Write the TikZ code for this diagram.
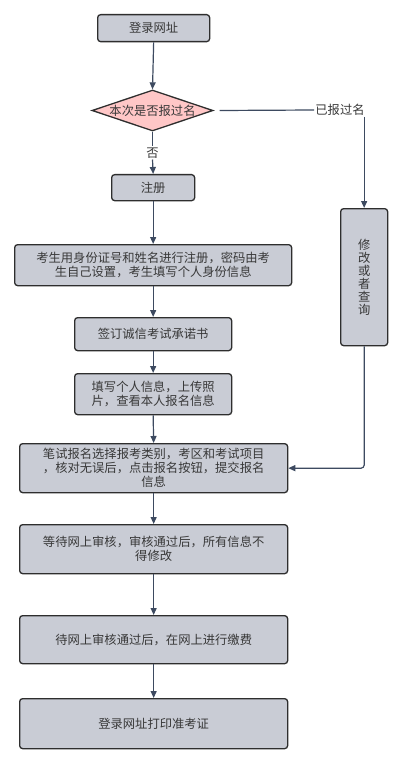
\documentclass[tikz,border=0pt]{standalone}
\usepackage{fontspec}
\setmainfont{Noto Sans CJK SC}
\usetikzlibrary{shapes.geometric,arrows.meta}
\definecolor{boxfill}{HTML}{C9CCD5}
\definecolor{boxline}{HTML}{2E2E2E}
\definecolor{pinkfill}{HTML}{FFC7C7}
\definecolor{arrowcol}{HTML}{3D4A60}
\definecolor{txt}{HTML}{383838}
\begin{document}
\begin{tikzpicture}[x=1pt,y=-1pt,
  font=\fontsize{12.3}{14}\selectfont, text=txt,
  procbox/.style={draw=boxline, line width=1.3pt, fill=boxfill, rounded corners=3pt,
    inner sep=0pt, align=center, anchor=north west},
  decbox/.style={draw=boxline, line width=1.3pt, fill=pinkfill, shape=diamond,
    inner sep=0pt, minimum width=121pt, minimum height=41pt},
  conn/.style={draw=arrowcol, line width=1.2pt},
  arr/.style={conn, -{Triangle[length=7pt,width=6pt]}},
  lbl/.style={fill=white, inner sep=1pt}]
\useasboundingbox (0,0) rectangle (400,762);
\fill[white] (0,0) rectangle (400,762);

\node[procbox, minimum width=112pt, minimum height=27pt] (b1) at (97,14) {登录网址};
\node[decbox] (d) at (152.5,110.5) {};
\node (dtext) at (d.center) {本次是否报过名};
\node[procbox, minimum width=83pt, minimum height=26pt] (b2) at (111,174) {注册};
\node[procbox, minimum width=277pt, minimum height=41pt] (b3) at (14,244)
  {考生用身份证号和姓名进行注册，密码由考\\生自己设置，考生填写个人身份信息};
\node[procbox, minimum width=157pt, minimum height=33pt] (b4) at (74,317) {签订诚信考试承诺书};
\node[procbox, minimum width=157pt, minimum height=41pt] (b5) at (74,373)
  {填写个人信息，上传照\\片，查看本人报名信息};
\node[procbox, minimum width=268pt, minimum height=49pt] (b6) at (19,443)
  {笔试报名选择报考类别，考区和考试项目\\，核对无误后，点击报名按钮，提交报名\\信息};
\node[procbox, minimum width=268pt, minimum height=49pt] (b7) at (19,524)
  {等待网上审核，审核通过后，所有信息不\\得修改};
\node[procbox, minimum width=268pt, minimum height=48pt] (b8) at (19,615)
  {待网上审核通过后，在网上进行缴费};
\node[procbox, minimum width=268pt, minimum height=50pt] (b9) at (19,698)
  {登录网址打印准考证};
\node[procbox, minimum width=47pt, minimum height=137pt, font=\fontsize{12.3}{13}\selectfont] (mod) at (340,208)
  {修\\改\\或\\者\\查\\询};

\node[lbl] (yes) at (340,110) {已报过名};
\node[lbl] (no) at (152.5,153) {否};

\draw[arr] (b1.south) -- (d.north);
\draw[conn] (d.south) -- (no.north);
\draw[arr] (no.south) -- (b2.north);
\draw[conn] (d.east) ++(6,0) coordinate (dstart) -- (yes.west);
\draw[arr] (yes.south -| mod.north) -- (mod.north);
\draw[arr, rounded corners=3pt] (mod.south) |- (b6.east);
\draw[arr] (b2.south) -- (b3.north);
\draw[arr] (b3.south) -- (b4.north);
\draw[arr] (b4.south) -- (b5.north);
\draw[arr] (b5.south) -- (b6.north);
\draw[arr] (b6.south) -- (b7.north);
\draw[arr] (b7.south) -- (b8.north);
\draw[arr] (b8.south) -- (b9.north);
\end{tikzpicture}
\end{document}
